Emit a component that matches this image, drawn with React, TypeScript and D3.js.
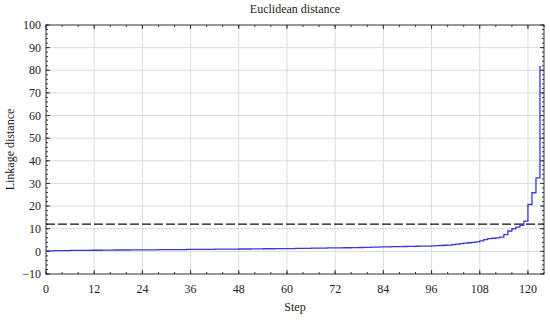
import React from "react";
import * as d3 from "d3";

// linkage distance at each amalgamation step
const steps: number[] = d3.range(0, 124);
const linkage: number[] = [
  0.2, 0.25, 0.3, 0.3, 0.35, 0.35, 0.4, 0.4, 0.4, 0.45, 0.45, 0.5,
  0.5, 0.5, 0.55, 0.55, 0.55, 0.6, 0.6, 0.6, 0.6, 0.65, 0.65, 0.65,
  0.7, 0.7, 0.7, 0.7, 0.75, 0.75, 0.75, 0.8, 0.8, 0.8, 0.8, 0.85,
  0.85, 0.85, 0.9, 0.9, 0.9, 0.9, 0.95, 0.95, 0.95, 1.0, 1.0, 1.0,
  1.05, 1.05, 1.05, 1.1, 1.1, 1.1, 1.15, 1.15, 1.15, 1.2, 1.2, 1.2,
  1.25, 1.25, 1.3, 1.3, 1.35, 1.35, 1.4, 1.4, 1.45, 1.45, 1.5, 1.5,
  1.55, 1.55, 1.6, 1.6, 1.65, 1.65, 1.7, 1.75, 1.8, 1.85, 1.9, 1.95,
  2.0, 2.0, 2.05, 2.1, 2.1, 2.15, 2.2, 2.2, 2.25, 2.3, 2.3, 2.35,
  2.4, 2.5, 2.6, 2.7, 2.8, 3.0, 3.2, 3.4, 3.6, 3.8, 4.0, 4.2,
  4.6, 5.2, 5.6, 5.8, 6.0, 6.3, 7.4, 9.0, 10.0, 10.7, 11.5, 13.4,
  20.7, 25.9, 32.5, 82.0,
];
const cutLevel = 12;
const xTicks = [0, 12, 24, 36, 48, 60, 72, 84, 96, 108, 120];
const yTicks = [-10, 0, 10, 20, 30, 40, 50, 60, 70, 80, 90, 100];

const W = 550;
const H = 320;
const margin = { top: 25, right: 6, bottom: 46, left: 46 };
const font = "'Liberation Serif', 'DejaVu Serif', serif";

const App: React.FC = () => {
  const svgRef = React.useRef<SVGSVGElement>(null);

  React.useEffect(() => {
    if (!svgRef.current) return;
    const svg = d3.select(svgRef.current);
    svg.selectAll("*").remove();
    const w = W - margin.left - margin.right;
    const h = H - margin.top - margin.bottom;

    const x = d3.scaleLinear().domain([0, 124]).range([0, w]);
    const y = d3.scaleLinear().domain([-10, 100]).range([h, 0]);

    const g = svg
      .append("g")
      .attr("transform", `translate(${margin.left},${margin.top})`);

    // grid
    g.append("g")
      .selectAll("line")
      .data(xTicks.slice(1))
      .join("line")
      .attr("x1", d => x(d))
      .attr("x2", d => x(d))
      .attr("y1", 0)
      .attr("y2", h)
      .attr("stroke", "#dcdcdc")
      .attr("stroke-width", 1);
    g.append("g")
      .selectAll("line")
      .data(yTicks.slice(1, -1))
      .join("line")
      .attr("x1", 0)
      .attr("x2", w)
      .attr("y1", d => y(d))
      .attr("y2", d => y(d))
      .attr("stroke", "#dcdcdc")
      .attr("stroke-width", 1);

    // minor + major ticks, inward on all four sides
    const xMinor = d3.range(0, 125, 4);
    const yMinor = d3.range(-10, 101, 2);
    const tickStroke = "#333";
    const addTicks = (
      vals: number[],
      len: number,
      horiz: boolean,
      pos: number,
      dir: number
    ) => {
      g.append("g")
        .selectAll("line")
        .data(vals)
        .join("line")
        .attr("x1", d => (horiz ? x(d) : pos))
        .attr("x2", d => (horiz ? x(d) : pos + dir * len))
        .attr("y1", d => (horiz ? pos : y(d)))
        .attr("y2", d => (horiz ? pos + dir * len : y(d)))
        .attr("stroke", tickStroke)
        .attr("stroke-width", 1);
    };
    addTicks(xMinor, 2, true, h, -1);
    addTicks(xTicks, 4, true, h, -1);
    addTicks(xMinor, 2, true, 0, 1);
    addTicks(xTicks, 4, true, 0, 1);
    addTicks(yMinor, 2, false, 0, 1);
    addTicks(yTicks, 4, false, 0, 1);
    addTicks(yMinor, 2, false, w, -1);
    addTicks(yTicks, 4, false, w, -1);

    // cut-off line
    g.append("line")
      .attr("x1", 0)
      .attr("x2", w)
      .attr("y1", y(cutLevel))
      .attr("y2", y(cutLevel))
      .attr("stroke", "#111")
      .attr("stroke-width", 1.2)
      .attr("stroke-dasharray", "9,3");

    // step line
    const line = d3
      .line<number>()
      .x((_, i) => x(steps[i]))
      .y(d => y(d))
      .curve(d3.curveStepAfter);
    g.append("path")
      .datum(linkage)
      .attr("fill", "none")
      .attr("stroke", "#3b3bd4")
      .attr("stroke-width", 1.3)
      .attr("d", line);

    // frame
    g.append("rect")
      .attr("width", w)
      .attr("height", h)
      .attr("fill", "none")
      .attr("stroke", "#333")
      .attr("stroke-width", 1);

    // tick labels
    g.append("g")
      .selectAll("text")
      .data(xTicks)
      .join("text")
      .attr("x", d => x(d))
      .attr("y", h + 19)
      .attr("text-anchor", "middle")
      .style("font-family", font)
      .style("font-size", "12px")
      .attr("fill", "#222")
      .text(d => d);
    g.append("g")
      .selectAll("text")
      .data(yTicks)
      .join("text")
      .attr("x", -5)
      .attr("y", d => y(d))
      .attr("dy", "0.35em")
      .attr("text-anchor", "end")
      .style("font-family", font)
      .style("font-size", "12px")
      .attr("fill", "#222")
      .text(d => (d < 0 ? `\u2212${Math.abs(d)}` : d));

    // titles
    svg
      .append("text")
      .attr("x", margin.left + w / 2)
      .attr("y", 13)
      .attr("text-anchor", "middle")
      .style("font-family", font)
      .style("font-size", "12px")
      .attr("fill", "#222")
      .text("Euclidean distance");
    svg
      .append("text")
      .attr("x", margin.left + w / 2)
      .attr("y", 311)
      .attr("text-anchor", "middle")
      .style("font-family", font)
      .style("font-size", "12px")
      .attr("fill", "#222")
      .text("Step");
    svg
      .append("text")
      .attr("transform", `translate(14,${margin.top + h / 2}) rotate(-90)`)
      .attr("text-anchor", "middle")
      .style("font-family", font)
      .style("font-size", "12px")
      .attr("fill", "#222")
      .text("Linkage distance");
  }, []);

  return (
    <svg
      ref={svgRef}
      width={W}
      height={H}
      style={{ position: "absolute", left: 0, top: 0, background: "#fff" }}
    />
  );
};

export default App;
